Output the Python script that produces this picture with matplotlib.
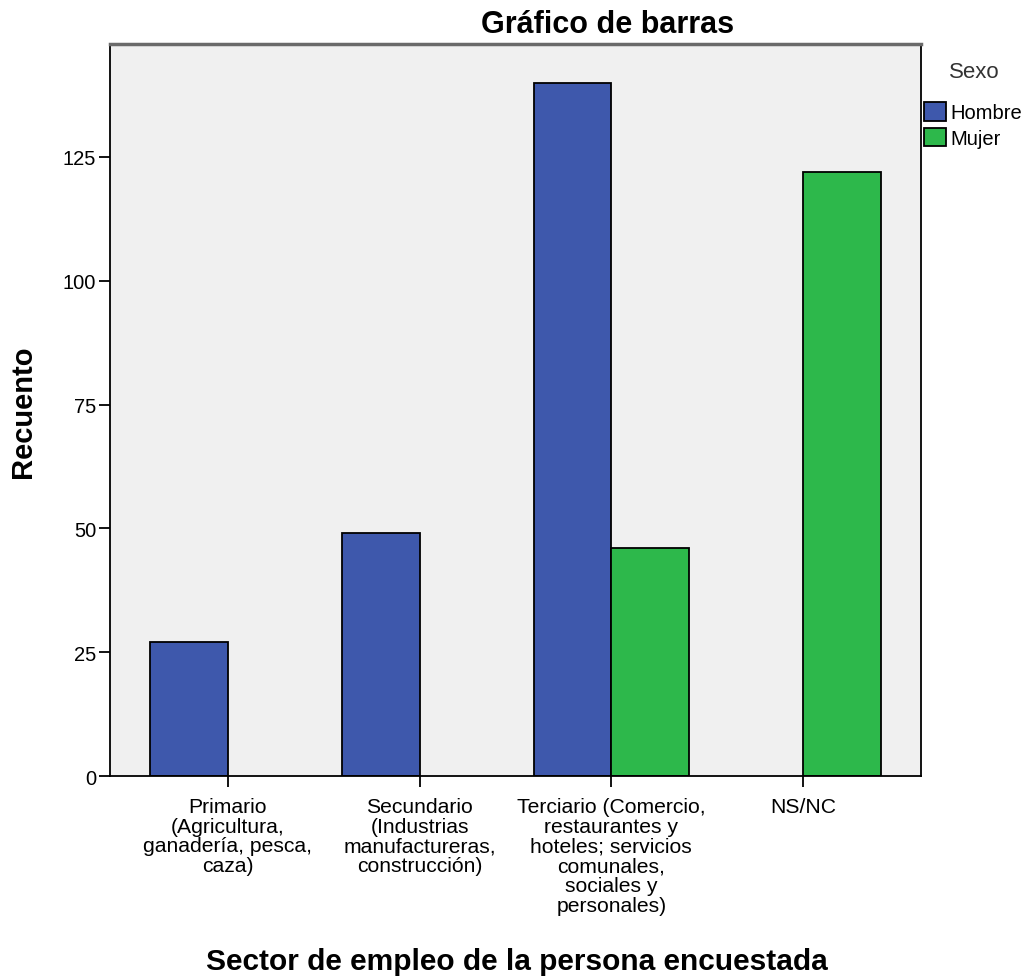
import matplotlib.pyplot as plt
import numpy as np

categorias = ['Primario\n(Agricultura,\nganadería, pesca,\ncaza)',
              'Secundario\n(Industrias\nmanufactureras,\nconstrucción)',
              'Terciario (Comercio,\nrestaurantes y\nhoteles; servicios\ncomunales,\nsociales y\npersonales)',
              'NS/NC']
hombre = np.array([27, 49, 140, 0])
mujer = np.array([0, 0, 46, 122])
yticks = [0, 25, 50, 75, 100, 125]

plt.rcParams['font.family'] = ['Liberation Sans', 'DejaVu Sans']

fig = plt.figure(figsize=(10.27, 9.78), dpi=100)
ax = fig.add_axes([0.1071, 0.2055, 0.7897, 0.7485])
ax.set_facecolor('#F0F0F0')

x = np.arange(len(categorias))
w = 0.406
# solo se dibujan las barras con recuento > 0
mh = hombre > 0
mm = mujer > 0
hb = ax.bar(x[mh] - w, hombre[mh], width=w, align='edge', color='#3E58AC',
            edgecolor='black', linewidth=1.3, label='Hombre')
mb = ax.bar(x[mm], mujer[mm], width=w, align='edge', color='#2DB84B',
            edgecolor='black', linewidth=1.3, label='Mujer')

ax.set_xlim(-0.615, 3.615)
ax.set_ylim(0, 147.8)
ax.set_xticks(x)
ax.set_xticklabels(categorias, fontsize=15.2, linespacing=1.05)
ax.set_yticks(yticks)
ax.tick_params(axis='y', labelsize=14.5, length=8, width=1.3, direction='out', pad=2)
ax.tick_params(axis='x', length=8, width=1.3, direction='out', pad=7)
for s in ['left', 'right', 'bottom']:
    ax.spines[s].set_linewidth(1.3)
    ax.spines[s].set_color('black')
ax.spines['top'].set_linewidth(2.5)
ax.spines['top'].set_color('#6A6A6A')

fig.text(608 / 1027, 1 - 33 / 978, 'Gráfico de barras', ha='center',
         va='baseline', fontsize=22, fontweight='bold')
fig.text(23 / 1027, 1 - 412 / 978, 'Recuento', ha='center', va='center',
         rotation=90, fontsize=21, fontweight='bold')
fig.text(517 / 1027, 1 - 970 / 978, 'Sector de empleo de la persona encuestada',
         ha='center', va='baseline', fontsize=21.5, fontweight='bold')

fig.text(974 / 1027, 1 - 73 / 978, 'Sexo', ha='center', va='center',
         fontsize=16, color='#333333')
fig.legend(handles=[hb, mb], labels=['Hombre', 'Mujer'],
           loc='upper left', bbox_to_anchor=(924 / 1027, 1 - 103 / 978),
           frameon=False, fontsize=14.5, handlelength=1.1, handleheight=1.05,
           handletextpad=0.2, labelspacing=0.27, borderaxespad=0, borderpad=0)

fig.savefig('out.png', dpi=100)
